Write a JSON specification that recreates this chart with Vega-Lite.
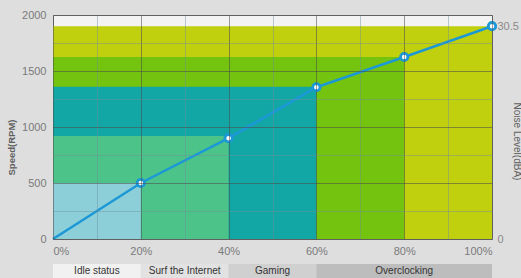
{
  "$schema": "https://vega.github.io/schema/vega-lite/v6.json",
  "background": "#dedede",
  "padding": {"left": 6, "top": 8, "right": 0, "bottom": 1},
  "config": {"font": "Liberation Sans", "view": {"stroke": null}},
  "spacing": 7,
  "vconcat": [
    {
      "width": 439,
      "height": 224,
      "view": {"fill": "#f3f3f3", "stroke": "#7a7a7a", "strokeWidth": 1},
      "layer": [
        {
          "data": {"values": [
            {"band": "80-100%", "start": 0, "end": 100, "top": 1900},
            {"band": "60-80%", "start": 0, "end": 80, "top": 1625},
            {"band": "40-60%", "start": 0, "end": 60, "top": 1360},
            {"band": "20-40%", "start": 0, "end": 40, "top": 920},
            {"band": "0-20%", "start": 0, "end": 20, "top": 500}
          ]},
          "mark": {"type": "rect"},
          "encoding": {
            "x": {"field": "start", "type": "quantitative", "scale": {"domain": [0, 100]},
              "axis": {"values": [0,10,20,30,40,50,60,70,80,90,100],
                "labelExpr": "datum.value % 20 === 0 ? datum.value + '%' : ''",
                "grid": true,
                "gridColor": {"condition": {"test": "datum.value % 20 === 0", "value": "#4a4a4a"}, "value": "#6f8e9e"},
                "gridOpacity": {"condition": {"test": "datum.value % 20 === 0", "value": 0.55}, "value": 0.45},
                "domain": false, "ticks": false, "labelPadding": 6, "labelColor": "#7a7a7a",
                "labelFontSize": 11, "title": null, "zindex": 1}},
            "x2": {"field": "end"},
            "y": {"field": "top", "type": "quantitative", "scale": {"domain": [0, 2000]},
              "axis": {"values": [0,250,500,750,1000,1250,1500,1750,2000],
                "labelExpr": "datum.value % 500 === 0 ? datum.value : ''",
                "grid": true,
                "gridColor": {"condition": {"test": "datum.value % 500 === 0", "value": "#4a4a4a"}, "value": "#6f8e9e"},
                "gridOpacity": {"condition": {"test": "datum.value % 500 === 0", "value": 0.55}, "value": 0.45},
                "domain": false, "ticks": false, "labelPadding": 7, "labelColor": "#7a7a7a",
                "labelFontSize": 11, "title": "Speed(RPM)", "titleFontSize": 9.5, "titleFontWeight": "bold",
                "titleColor": "#606060", "titlePadding": 5, "titleY": 132, "zindex": 1}},
            "y2": {"datum": 0},
            "color": {"field": "band", "type": "nominal",
              "scale": {"domain": ["0-20%", "20-40%", "40-60%", "60-80%", "80-100%"],
                "range": ["#8dcfd9", "#4cc489", "#12a6a5", "#74c30e", "#c0cf0e"]},
              "legend": null}
          }
        },
        {
          "data": {"values": [
            {"load": 0, "rpm": 0},
            {"load": 20, "rpm": 500},
            {"load": 40, "rpm": 900},
            {"load": 60, "rpm": 1355},
            {"load": 80, "rpm": 1625},
            {"load": 100, "rpm": 1900}
          ]},
          "mark": {"type": "line", "color": "#1b98d5", "strokeWidth": 2.5},
          "encoding": {
            "x": {"field": "load", "type": "quantitative"},
            "y": {"field": "rpm", "type": "quantitative",
              "axis": {"orient": "right", "values": [0, 1900],
                "labelExpr": "datum.value === 1900 ? '30.5' : '0'",
                "grid": false, "domain": false, "ticks": false, "labelPadding": 5,
                "labelColor": "#8a8a8a", "labelFontSize": 11,
                "title": "Noise Level(dBA)", "titleAngle": 90, "titleX": 19, "titleY": 126,
                "titleBaseline": "bottom", "titleAlign": "center",
                "titleFontSize": 10, "titleFontWeight": "normal", "titleColor": "#606060"}}
          }
        },
        {
          "data": {"values": [
            {"load": 20, "rpm": 500},
            {"load": 40, "rpm": 900},
            {"load": 60, "rpm": 1355},
            {"load": 80, "rpm": 1625},
            {"load": 100, "rpm": 1900}
          ]},
          "mark": {"type": "point", "filled": true, "fill": "#ffffff", "stroke": "#1b98d5", "strokeWidth": 2.8, "size": 55, "opacity": 1},
          "encoding": {
            "x": {"field": "load", "type": "quantitative"},
            "y": {"field": "rpm", "type": "quantitative", "axis": null}
          }
        }
      ],
      "resolve": {"axis": {"y": "independent"}}
    },
    {
      "width": 439,
      "height": 14,
      "data": {"values": [
        {"stage": "Idle status", "start": 0, "end": 20},
        {"stage": "Surf the Internet", "start": 20, "end": 40},
        {"stage": "Gaming", "start": 40, "end": 60},
        {"stage": "Overclocking", "start": 60, "end": 100}
      ]},
      "transform": [{"calculate": "(datum.start + datum.end) / 2", "as": "mid"}],
      "layer": [
        {
          "mark": {"type": "rect"},
          "encoding": {
            "x": {"field": "start", "type": "quantitative", "scale": {"domain": [0, 100]}, "axis": null},
            "x2": {"field": "end"},
            "color": {"field": "stage", "type": "nominal",
              "scale": {"domain": ["Idle status", "Surf the Internet", "Gaming", "Overclocking"],
                "range": ["#f1f1f1", "#e2e2e2", "#d0d0d0", "#bdbdbd"]},
              "legend": null}
          }
        },
        {
          "mark": {"type": "text", "fontSize": 10, "color": "#333333", "align": "center"},
          "encoding": {
            "x": {"field": "mid", "type": "quantitative", "axis": null},
            "text": {"field": "stage"}
          }
        }
      ],
      "resolve": {"scale": {"color": "independent"}}
    }
  ]
}
